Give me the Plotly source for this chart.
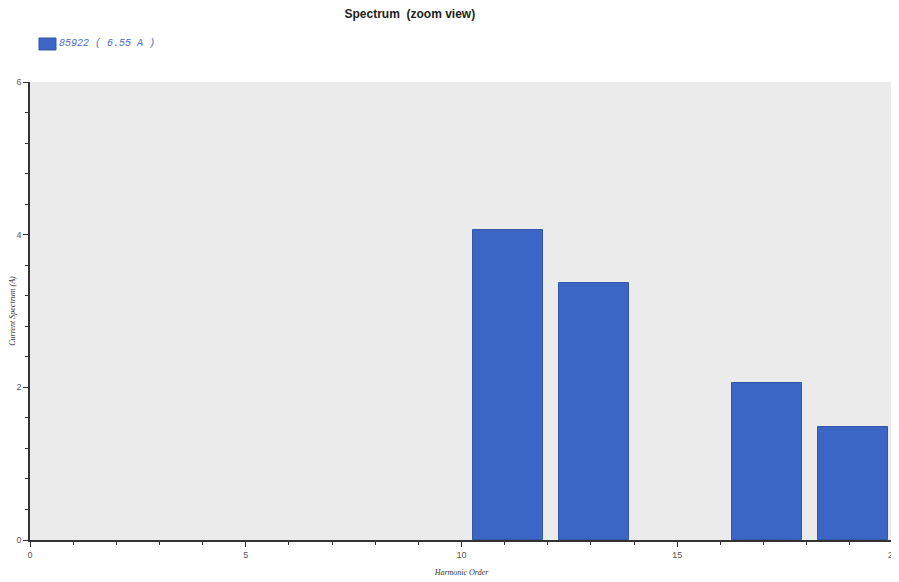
import plotly.graph_objects as go

harmonics = [11, 13, 17, 19]
current_a = [4.06, 3.37, 2.06, 1.48]
series_name = "85922 ( 6.55 A )"
x_ticks = [0, 5, 10, 15, 20]
y_ticks = [0, 2, 4, 6]

BAR_COLOR = "#3b66c6"

fig = go.Figure()
fig.add_trace(go.Bar(
    x=harmonics, y=current_a, name=series_name,
    width=1.62, offset=-0.74,
    marker=dict(color=BAR_COLOR, line=dict(color="#3358a8", width=1)),
    showlegend=False,
))

# legend swatch + label (drawn manually to match spacing)
fig.add_shape(type="rect", xref="paper", yref="paper",
              x0=0.0104, x1=0.0301, y0=1.0699, y1=1.0961,
              fillcolor=BAR_COLOR, line=dict(color="#3358a8", width=1))
fig.add_annotation(text=series_name, xref="paper", yref="paper", x=0.0315, y=1.083,
                   xanchor="left", yanchor="middle", showarrow=False,
                   font=dict(family="Liberation Mono", size=10, color="#4a6acc", style="italic"))

fig.update_layout(
    width=899, height=582,
    margin=dict(l=22, r=14, t=74, b=50, autoexpand=False),
    paper_bgcolor="white", plot_bgcolor="#ebebeb",
    title=dict(text="<b>Spectrum  (zoom view)</b>", x=0.447, xanchor="center", y=0.9897,
               yanchor="middle",
               font=dict(family="Liberation Sans", size=12, color="#222")),
    xaxis=dict(range=[0, 20], tickvals=x_ticks, ticks="outside", ticklen=5, tickcolor="#333",
               automargin=False,
               minor=dict(dtick=1, ticks="outside", ticklen=3, tickcolor="#333"),
               showgrid=False, zeroline=False, showline=True, linecolor="#333", linewidth=1.5,
               tickfont=dict(family="Liberation Sans", size=9, color="#555"),
               title=dict(text="Harmonic Order", standoff=11,
                          font=dict(family="Liberation Serif", size=8, color="#333", style="italic"))),
    yaxis=dict(range=[0, 6], tickvals=y_ticks, ticks="outside", ticklen=5, tickcolor="#333",
               automargin=False,
               minor=dict(dtick=0.4, ticks="outside", ticklen=3, tickcolor="#333"),
               showgrid=False, zeroline=False, showline=True, linecolor="#333", linewidth=1.5,
               tickfont=dict(family="Liberation Sans", size=9, color="#555"),
               title=dict(text="Current Spectrum (A)", standoff=2,
                          font=dict(family="Liberation Serif", size=8, color="#333", style="italic"))),
    bargap=0,
)

fig.write_html("out.html")
